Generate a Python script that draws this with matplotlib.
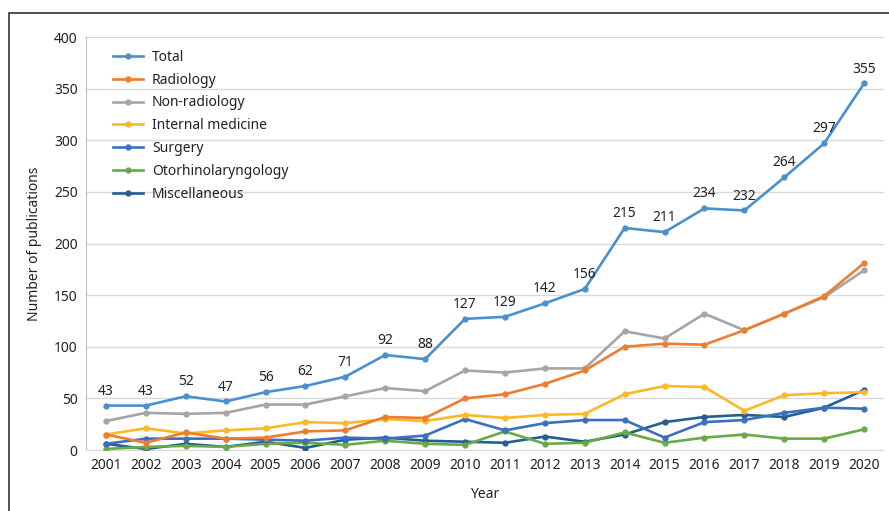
import matplotlib
matplotlib.use("Agg")
import matplotlib.pyplot as plt
from matplotlib.patches import Rectangle

years = list(range(2001, 2021))
total = [43, 43, 52, 47, 56, 62, 71, 92, 88, 127, 129, 142, 156, 215, 211, 234, 232, 264, 297, 355]
radiology = [15, 7, 17, 11, 12, 18, 19, 32, 31, 50, 54, 64, 77, 100, 103, 102, 116, 132, 149, 181]
non_radiology = [28, 36, 35, 36, 44, 44, 52, 60, 57, 77, 75, 79, 79, 115, 108, 132, 116, 132, 148, 174]
internal_medicine = [15, 21, 16, 19, 21, 27, 26, 30, 28, 34, 31, 34, 35, 54, 62, 61, 38, 53, 55, 56]
surgery = [6, 11, 11, 11, 10, 9, 12, 11, 14, 30, 19, 26, 29, 29, 12, 27, 29, 36, 41, 40]
otorhinolaryngology = [1, 3, 4, 3, 6, 7, 5, 9, 6, 5, 18, 6, 7, 17, 7, 12, 15, 11, 11, 20]
miscellaneous = [6, 1, 6, 3, 8, 2, 10, 12, 9, 8, 7, 13, 8, 15, 27, 32, 34, 32, 41, 58]

series = [
    ("Total", total, "#4A90CE"),
    ("Radiology", radiology, "#ED7D31"),
    ("Non-radiology", non_radiology, "#A5A5A5"),
    ("Internal medicine", internal_medicine, "#FDB827"),
    ("Surgery", surgery, "#3B70BE"),
    ("Otorhinolaryngology", otorhinolaryngology, "#6AAA46"),
    ("Miscellaneous", miscellaneous, "#235D91"),
]

plt.rcParams['font.family'] = ['Noto Sans', 'DejaVu Sans']
FS = 10

fig = plt.figure(figsize=(8.89, 5.11), dpi=100)
ax = fig.add_axes([86/889, 1-450/511, (884-86)/889, (450-37)/511])

for name, vals, col in reversed(series):
    ax.plot(years, vals, color=col, lw=1.9, marker='o', ms=3.5, label=name, zorder=3)

for x, v in zip(years, total):
    ax.annotate(str(v), (x, v), xytext=(0, 5), textcoords='offset points',
                ha='center', va='bottom', fontsize=FS, color='#222222')

ax.set_xlim(2000.5, 2020.5)
ax.set_ylim(0, 400)
ax.set_yticks(range(0, 401, 50))
ax.set_xticks(years)
ax.tick_params(axis='both', length=0, labelsize=FS, colors='#222222', pad=6)
ax.grid(axis='y', color='#D9D9D9', lw=1)
ax.set_axisbelow(True)
for s in ['top', 'right']:
    ax.spines[s].set_visible(False)
ax.spines['left'].set_color('#BFBFBF')
ax.spines['bottom'].set_color('#D9D9D9')
ax.set_xlabel('Year', fontsize=FS, labelpad=10, color='#222222')
ax.set_ylabel('Number of publications', fontsize=FS, labelpad=9, color='#222222')

handles, labels = ax.get_legend_handles_labels()
leg = ax.legend(handles[::-1], labels[::-1], loc='upper left', bbox_to_anchor=(0.018, 0.999),
                frameon=False, fontsize=FS, handlelength=2.16, labelspacing=0.56,
                handletextpad=0.65)
for t in leg.get_texts():
    t.set_color('#222222')

fig.add_artist(Rectangle((9/889, -0.1), 1.2, 1.1 - 13/511, transform=fig.transFigure,
                         fill=False, edgecolor='#333333', lw=1.2))

fig.savefig('out.png', dpi=100)
